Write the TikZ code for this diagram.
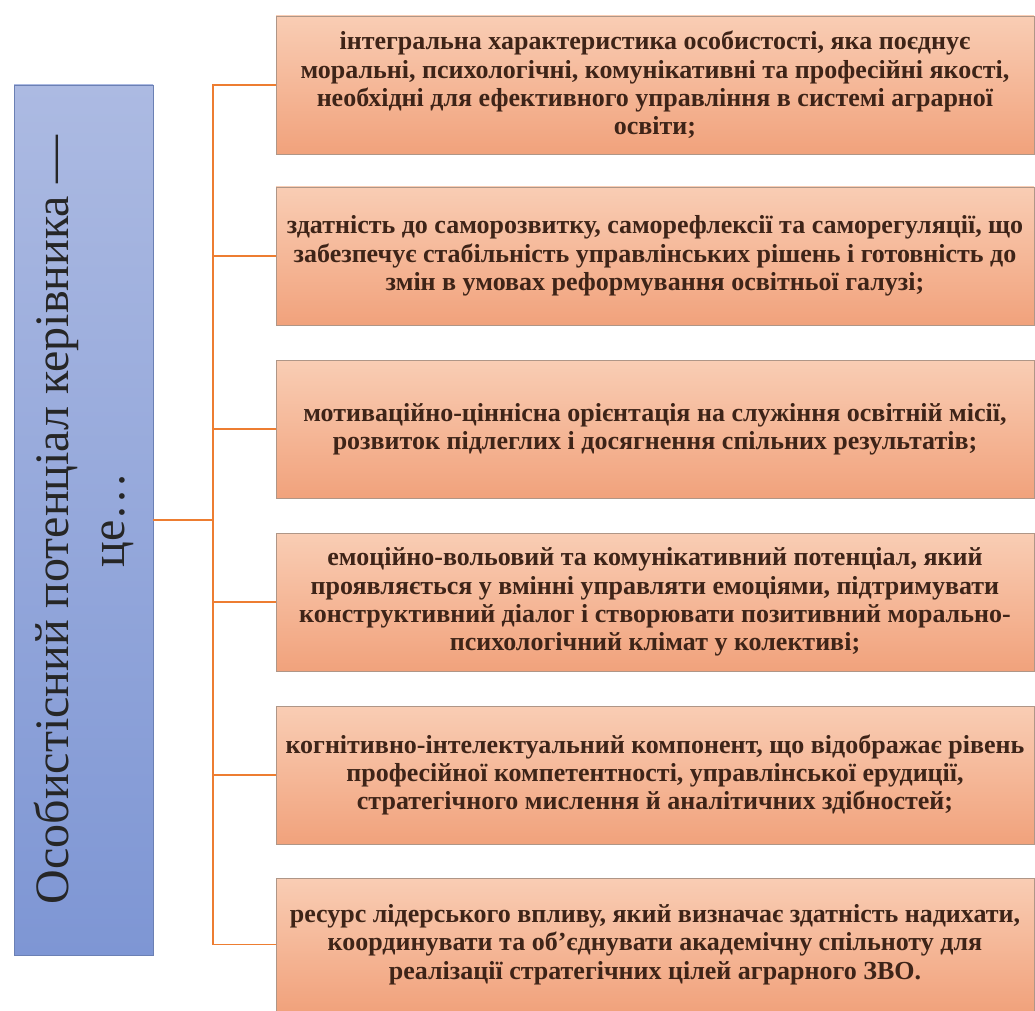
\documentclass[tikz,border=0pt]{standalone}
\usepackage{fontspec}
\setmainfont{Liberation Serif}
\usepackage{tikz}

\definecolor{leadtop}{RGB}{172,186,226}
\definecolor{leadbot}{RGB}{126,150,212}
\definecolor{parttop}{RGB}{249,205,180}
\definecolor{partbot}{RGB}{241,162,124}
\definecolor{partedge}{RGB}{175,150,135}
\definecolor{linkcol}{RGB}{237,125,49}
\definecolor{txtcol}{RGB}{62,36,24}

\tikzset{
  leadbox/.style={rectangle, minimum width=69.5pt, minimum height=435pt, inner sep=0pt,
    top color=leadtop, bottom color=leadbot, draw=leadbot!85!black, line width=0.3pt},
  leadtext/.style={rotate=90, align=center, text=black!85,
    font=\fontsize{24}{28}\selectfont},
  partbox/.style={rectangle, minimum width=379pt, minimum height=69pt, inner sep=1pt,
    top color=parttop, bottom color=partbot, draw=partedge, line width=0.4pt,
    align=center, text=txtcol, font=\fontsize{13}{14.2}\selectfont\bfseries},
  link/.style={draw=linkcol, line width=0.8pt}
}

\begin{document}
\begin{tikzpicture}[x=0.5pt, y=-0.5pt]
	\useasboundingbox (0,0) rectangle (1035,1011);

	% left block
	\node[leadbox] (Lead) at (83.5,520) {};
	\node[leadtext] (LeadTxt) at (Lead.center) {Особистісний потенціал керівника —\\ це…};

	% right blocks
	\node[partbox] (P1) at (655,85) {інтегральна характеристика особистості, яка поєднує\\ моральні, психологічні, комунікативні та професійні якості,\\ необхідні для ефективного управління в системі аграрної\\ освіти;};
	\node[partbox] (P2) at (655,256) {здатність до саморозвитку, саморефлексії та саморегуляції, що\\ забезпечує стабільність управлінських рішень і готовність до\\ змін в умовах реформування освітньої галузі;};
	\node[partbox] (P3) at (655,429) {мотиваційно-ціннісна орієнтація на служіння освітній місії,\\ розвиток підлеглих і досягнення спільних результатів;};
	\node[partbox] (P4) at (655,602) {емоційно-вольовий та комунікативний потенціал, який\\ проявляється у вмінні управляти емоціями, підтримувати\\ конструктивний діалог і створювати позитивний морально-\\ психологічний клімат у колективі;};
	\node[partbox] (P5) at (655,775) {когнітивно-інтелектуальний компонент, що відображає рівень\\ професійної компетентності, управлінської ерудиції,\\ стратегічного мислення й аналітичних здібностей;};
	\node[partbox, minimum height=66.5pt] (P6) at (655,944.5) {ресурс лідерського впливу, який визначає здатність надихати,\\ координувати та об’єднувати академічну спільноту для\\ реалізації стратегічних цілей аграрного ЗВО.};

	% connectors
	\coordinate (hub) at (213,520);
	\draw[link] (Lead.east) -- (hub);
	\draw[link] (hub) |- (P1.west);
	\draw[link] (hub) |- (P2.west);
	\draw[link] (hub) |- (P3.west);
	\draw[link] (hub) |- (P4.west);
	\draw[link] (hub) |- (P5.west);
	\draw[link] (hub) |- (P6.west);
\end{tikzpicture}
\end{document}
